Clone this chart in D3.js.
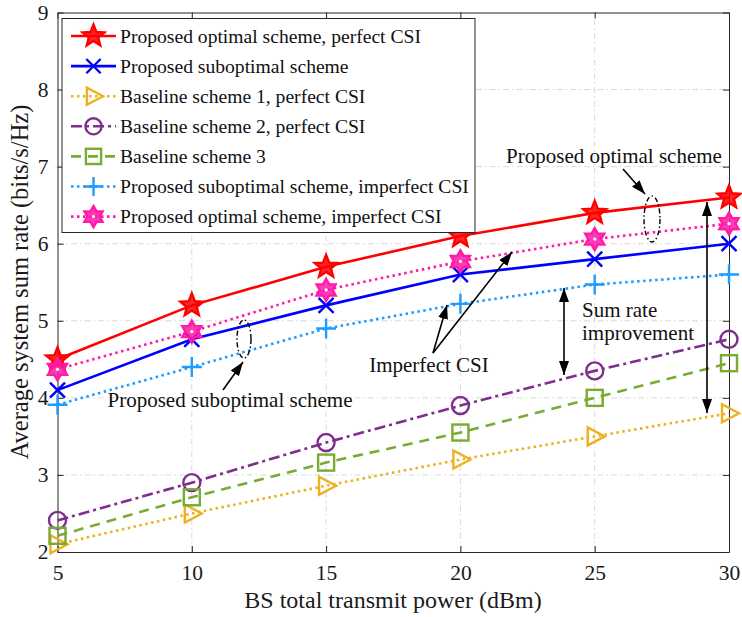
<!DOCTYPE html>
<html>
<head>
<meta charset="utf-8">
<script src="https://cdn.jsdelivr.net/npm/d3@7/dist/d3.min.js"></script>
<style>
  html, body { margin: 0; padding: 0; background: #fff; }
  svg { display: block; font-family: "Liberation Serif", "Times New Roman", serif; }
</style>
</head>
<body>
<svg id="chart" width="742" height="617"></svg>
<script>
// Transmit power (dBm)
const powers = [5, 10, 15, 20, 25, 30];
const xTicks = [5, 10, 15, 20, 25, 30];
const yTicks = [2, 3, 4, 5, 6, 7, 8, 9];

// Average system sum rate (bits/s/Hz) per scheme
const optimalPerfect    = [4.5, 5.2, 5.7, 6.1, 6.4, 6.6];
const suboptimal        = [4.1, 4.76, 5.2, 5.6, 5.8, 6.0];
const baseline1         = [2.1, 2.5, 2.86, 3.2, 3.5, 3.8];
const baseline2         = [2.41, 2.9, 3.42, 3.9, 4.35, 4.76];
const baseline3         = [2.21, 2.71, 3.16, 3.55, 4.0, 4.45];
const suboptImperfect   = [3.91, 4.4, 4.9, 5.22, 5.47, 5.6];
const optimalImperfect  = [4.37, 4.86, 5.4, 5.77, 6.06, 6.26];

const seriesNames = [
  "Proposed optimal scheme, perfect CSI",
  "Proposed suboptimal scheme",
  "Baseline scheme 1, perfect CSI",
  "Baseline scheme 2, perfect CSI",
  "Baseline scheme 3",
  "Proposed suboptimal scheme, imperfect CSI",
  "Proposed optimal scheme, imperfect CSI"
];

const series = [
  { name: seriesNames[0], values: optimalPerfect,   color: "#ff0000", dash: null,          marker: "pentagram" },
  { name: seriesNames[1], values: suboptimal,       color: "#0000ff", dash: null,          marker: "x" },
  { name: seriesNames[2], values: baseline1,        color: "#edb120", dash: "2.5,3.5",     marker: "triangle" },
  { name: seriesNames[3], values: baseline2,        color: "#7e2f8e", dash: "11,4,3,4",    marker: "circle" },
  { name: seriesNames[4], values: baseline3,        color: "#77ac30", dash: "10,7",        marker: "square" },
  { name: seriesNames[5], values: suboptImperfect,  color: "#1e9bff", dash: "2.5,3.5",     marker: "plus" },
  { name: seriesNames[6], values: optimalImperfect, color: "#ff1aa8", dash: "2.5,3.5",     marker: "hexagram" }
];

const svg = d3.select("#chart");
const margin = { left: 57.5, top: 12.5, right: 742 - 729, bottom: 617 - 552 };
const W = 742, H = 617;
const x = d3.scaleLinear().domain([5, 30]).range([margin.left, W - margin.right]);
const y = d3.scaleLinear().domain([2, 9]).range([H - margin.bottom, margin.top]);

// grid
const grid = svg.append("g").attr("stroke", "#d9d9d9").attr("stroke-width", 1)
  .attr("stroke-dasharray", "6,3,1.5,3");
grid.selectAll("line.gx").data(xTicks.slice(1, -1)).join("line")
  .attr("x1", d => x(d)).attr("x2", d => x(d)).attr("y1", y(2)).attr("y2", y(9));
grid.selectAll("line.gy").data(yTicks.slice(1, -1)).join("line")
  .attr("x1", x(5)).attr("x2", x(30)).attr("y1", d => y(d)).attr("y2", d => y(d));

// axes (ticks inward on all four sides)
const axisColor = "#262626";
function styleAxis(g) {
  g.attr("font-family", null).attr("font-size", null);
  g.selectAll("path").attr("stroke", axisColor).attr("stroke-width", 1);
  g.selectAll("line").attr("stroke", axisColor);
  g.selectAll("text").attr("font-size", 21.5).attr("fill", "#1a1a1a");
}
const fmt = d3.format("d");
svg.append("g").attr("transform", `translate(0,${y(2)})`)
  .call(d3.axisBottom(x).tickValues(xTicks).tickFormat(fmt).tickSizeInner(-6).tickSizeOuter(0).tickPadding(13))
  .call(styleAxis);
svg.append("g").attr("transform", `translate(0,${y(9)})`)
  .call(d3.axisTop(x).tickValues(xTicks).tickSizeInner(-6).tickSizeOuter(0).tickFormat(""))
  .call(styleAxis);
svg.append("g").attr("transform", `translate(${x(5)},0)`)
  .call(d3.axisLeft(y).tickValues(yTicks).tickFormat(fmt).tickSizeInner(-6).tickSizeOuter(0).tickPadding(9))
  .call(styleAxis);
svg.append("g").attr("transform", `translate(${x(30)},0)`)
  .call(d3.axisRight(y).tickValues(yTicks).tickSizeInner(-6).tickSizeOuter(0).tickFormat(""))
  .call(styleAxis);

// axis titles
svg.append("text").attr("x", 393).attr("y", 608)
  .attr("text-anchor", "middle").attr("font-size", 24).attr("fill", "#1a1a1a")
  .text("BS total transmit power (dBm)");
svg.append("text").attr("transform", `translate(28,282) rotate(-90)`)
  .attr("text-anchor", "middle").attr("font-size", 24.5).attr("fill", "#1a1a1a")
  .text("Average system sum rate (bits/s/Hz)");

// marker shapes
function starPath(n, R, r) {
  const pts = [];
  for (let i = 0; i < 2 * n; i++) {
    const a = -Math.PI / 2 + i * Math.PI / n;
    const rr = i % 2 === 0 ? R : r;
    pts.push([rr * Math.cos(a), rr * Math.sin(a)]);
  }
  return "M" + pts.map(p => p[0].toFixed(2) + "," + p[1].toFixed(2)).join("L") + "Z";
}
function drawMarker(g, type, cx, cy, color, scale = 1) {
  const s = scale;
  const sw = 2.4;
  const m = g.append("g").attr("transform", `translate(${cx},${cy})`)
    .attr("stroke", color).attr("stroke-width", sw).attr("fill", "none");
  switch (type) {
    case "pentagram":
      m.append("path").attr("d", starPath(5, 12 * s, 5.2 * s)).attr("fill", color).attr("fill-opacity", 0.85);
      break;
    case "hexagram":
      m.append("path").attr("d", starPath(6, 11 * s, 6.4 * s)).attr("fill", color).attr("fill-opacity", 0.85);
      m.append("circle").attr("r", 1.6 * s).attr("fill", "#fff").attr("stroke", "none");
      break;
    case "x":
      m.append("path").attr("d", `M${-7.5 * s},${-7.5 * s}L${7.5 * s},${7.5 * s}M${-7.5 * s},${7.5 * s}L${7.5 * s},${-7.5 * s}`);
      break;
    case "plus":
      m.append("path").attr("d", `M${-10 * s},0L${10 * s},0M0,${-10 * s}L0,${10 * s}`);
      break;
    case "triangle":
      m.append("path").attr("d", `M${-7 * s},${-9 * s}L${10 * s},0L${-7 * s},${9 * s}Z`);
      break;
    case "circle":
      m.append("circle").attr("r", 8.5 * s);
      break;
    case "square":
      m.append("rect").attr("x", -8 * s).attr("y", -8 * s).attr("width", 16 * s).attr("height", 16 * s);
      break;
  }
}

// series lines and markers
const line = d3.line().x((d, i) => x(powers[i])).y(d => y(d));
const plot = svg.append("g");
series.forEach(s => {
  plot.append("path").datum(s.values).attr("d", line)
    .attr("fill", "none").attr("stroke", s.color).attr("stroke-width", 2.6)
    .attr("stroke-dasharray", s.dash);
});
series.forEach(s => {
  s.values.forEach((v, i) => drawMarker(plot, s.marker, x(powers[i]), y(v), s.color));
});

// annotations
const defs = svg.append("defs");
defs.append("marker").attr("id", "ah").attr("viewBox", "0 0 14 10")
  .attr("refX", 14).attr("refY", 5).attr("markerWidth", 14).attr("markerHeight", 10)
  .attr("markerUnits", "userSpaceOnUse").attr("orient", "auto-start-reverse")
  .append("path").attr("d", "M0,0L14,5L0,10Z").attr("fill", "#000");

const ann = svg.append("g").attr("font-size", 21).attr("fill", "#111");
function arrow(x1, y1, x2, y2, both = false) {
  const l = ann.append("line").attr("x1", x1).attr("y1", y1).attr("x2", x2).attr("y2", y2)
    .attr("stroke", "#000").attr("stroke-width", 1.6).attr("marker-end", "url(#ah)");
  if (both) l.attr("marker-start", "url(#ah)");
}
function ellipse(cx, cy, rx, ry) {
  ann.append("ellipse").attr("cx", cx).attr("cy", cy).attr("rx", rx).attr("ry", ry)
    .attr("fill", "none").attr("stroke", "#000").attr("stroke-width", 1.4)
    .attr("stroke-dasharray", "5,2.5,1.5,2.5");
}

// optimal scheme group
ann.append("text").attr("x", 614).attr("y", 163).attr("text-anchor", "middle").text("Proposed optimal scheme");
arrow(623, 169, 645, 194);
ellipse(652, 219, 8, 23);

// suboptimal scheme group
ann.append("text").attr("x", 230).attr("y", 407).attr("text-anchor", "middle").text("Proposed suboptimal scheme");
arrow(223, 390, 243, 362);
ellipse(244, 339, 7, 19);

// imperfect CSI arrows
ann.append("text").attr("x", 429).attr("y", 372).attr("text-anchor", "middle").text("Imperfect CSI");
arrow(433, 353, 447, 305);
arrow(433, 353, 512, 252);

// sum rate improvement
ann.append("text").attr("x", 582).attr("y", 317).text("Sum rate");
ann.append("text").attr("x", 582).attr("y", 340).text("improvement");
arrow(564, 375, 564, 288, true);
arrow(707, 413, 707, 202, true);

// legend
const lg = svg.append("g");
const lgX = 62, lgY = 18.5, lgW = 413, lgH = 214;
lg.append("rect").attr("x", lgX).attr("y", lgY).attr("width", lgW).attr("height", lgH)
  .attr("fill", "#fff").attr("stroke", "#262626").attr("stroke-width", 1);
series.forEach((s, i) => {
  const cy = 36 + i * 30.1;
  lg.append("line").attr("x1", 71).attr("x2", 116).attr("y1", cy).attr("y2", cy)
    .attr("stroke", s.color).attr("stroke-width", 2.6).attr("stroke-dasharray", s.dash);
  drawMarker(lg, s.marker, 93.5, cy, s.color, 0.95);
  lg.append("text").attr("x", 120).attr("y", cy + 6.5).attr("font-size", 19.6).attr("fill", "#111").text(s.name);
});
</script>
</body>
</html>
